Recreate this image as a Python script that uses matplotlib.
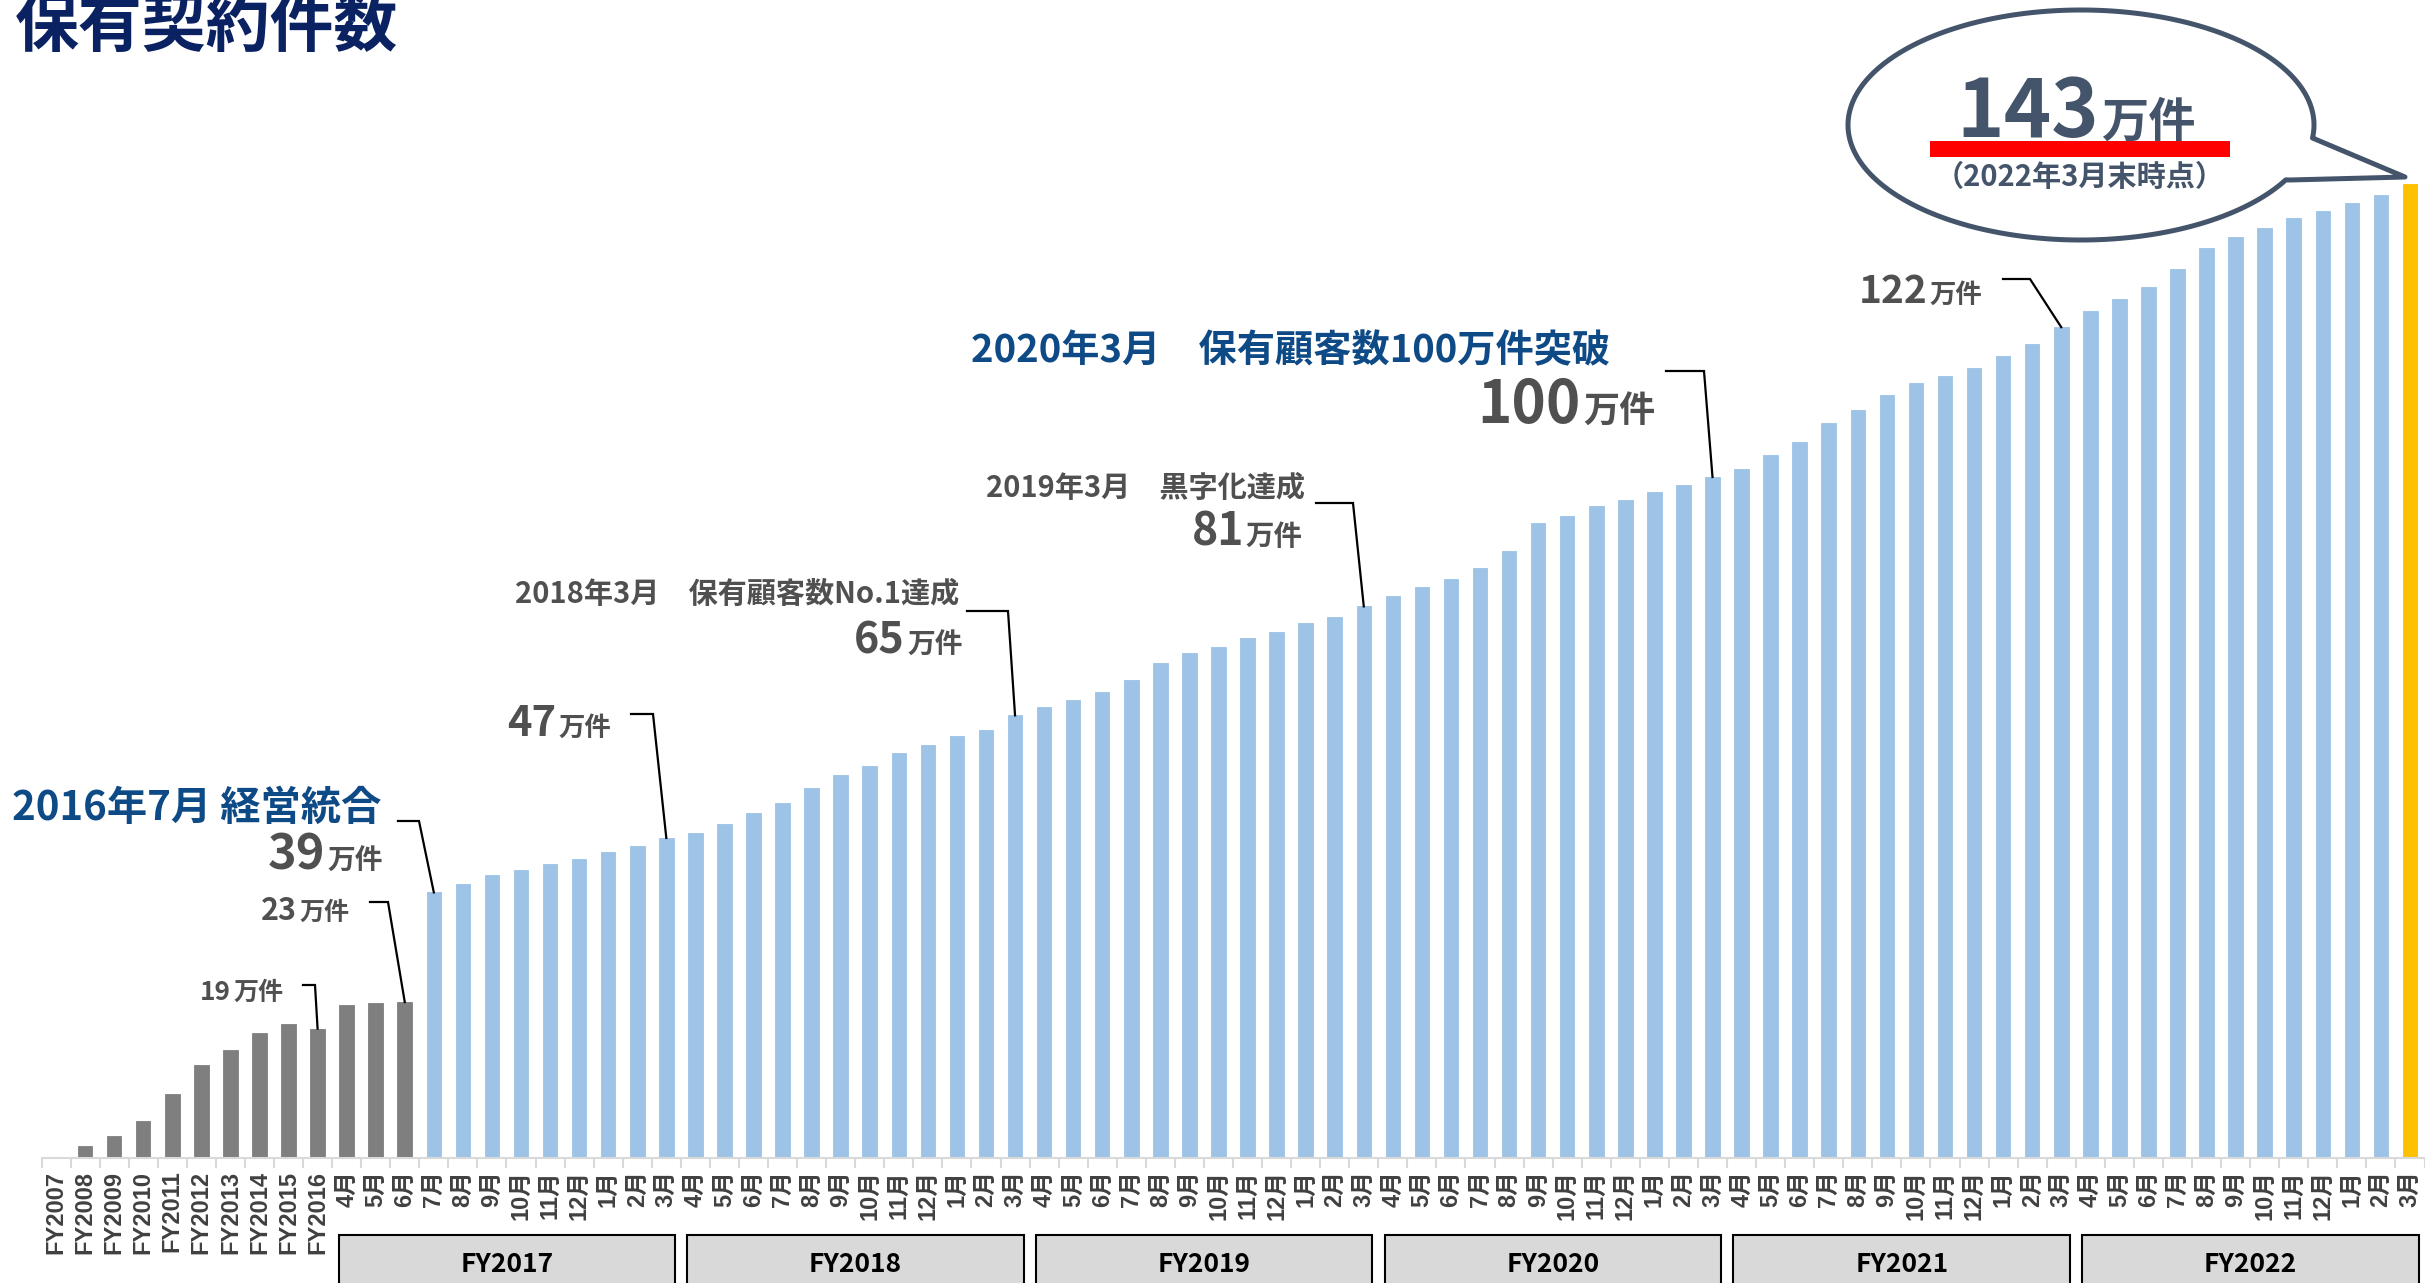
import matplotlib.pyplot as plt
import numpy as np
from matplotlib.patches import Rectangle, Polygon
from matplotlib.transforms import blended_transform_factory

plt.rcParams['font.family'] = ['Noto Sans CJK JP', 'DejaVu Sans']

W, H = 2425, 1283

# ---- data (万件) ----
fy_labels = ['FY2007', 'FY2008', 'FY2009', 'FY2010', 'FY2011',
             'FY2012', 'FY2013', 'FY2014', 'FY2015', 'FY2016']
fy_values = [0.0, 1.7, 3.3, 5.4, 9.4, 13.6, 15.8, 18.3, 19.7, 19.0]

pre_labels = ['4月', '5月', '6月']
pre_values = [22.5, 22.7, 22.9]

months = ['4月', '5月', '6月', '7月', '8月', '9月', '10月', '11月', '12月', '1月', '2月', '3月']
fy2017_values = [39.0, 40.3, 41.5, 42.3, 43.2, 43.9, 45.0, 45.8, 47.0]
fy2018_values = [47.7, 49.0, 50.6, 52.2, 54.4, 56.2, 57.6, 59.4, 60.6, 62.0, 62.8, 65.0]
fy2019_values = [66.2, 67.3, 68.4, 70.2, 72.7, 74.1, 75.0, 76.3, 77.3, 78.6, 79.5, 81.0]
fy2020_values = [82.5, 83.9, 85.0, 86.6, 89.1, 93.2, 94.2, 95.7, 96.6, 97.8, 98.8, 100.0]
fy2021_values = [101.2, 103.3, 105.1, 108.0, 109.9, 112.0, 113.8, 114.9, 116.0, 117.8, 119.5, 122.0]
fy2022_values = [124.4, 126.2, 127.9, 130.5, 133.6, 135.3, 136.6, 138.0, 139.1, 140.3, 141.4, 143.0]

groups = ['FY2017', 'FY2018', 'FY2019', 'FY2020', 'FY2021', 'FY2022']

labels = fy_labels + pre_labels + months[3:] + months * 5
values = (fy_values + pre_values + fy2017_values + fy2018_values + fy2019_values
          + fy2020_values + fy2021_values + fy2022_values)
n = len(values)
n_gray = len(fy_labels) + len(pre_labels)

GRAY = '#7f7f7f'
BLUE = '#9dc3e6'
GOLD = '#ffc000'
NAVY = '#0b2262'
DBLUE = '#0e4a86'
DGRAY = '#505050'
SLATE = '#44546a'

colors = [GRAY] * n_gray + [BLUE] * (n - n_gray - 1) + [GOLD]

fig = plt.figure(figsize=(W / 100, H / 100), dpi=100)
base = 1158
ax = fig.add_axes([41.5 / W, (H - base) / H, (2424.5 - 41.5) / W, base / H])
ax.bar(range(n), values, width=0.5, color=colors, edgecolor=colors, linewidth=0.6)
ax.set_xlim(-0.5, n - 0.5)
ax.set_ylim(0, base / 6.81)

for s in ['top', 'right', 'left']:
    ax.spines[s].set_visible(False)
ax.spines['bottom'].set_color('#d9d9d9')
ax.spines['bottom'].set_linewidth(1.5)
ax.set_yticks([])
ax.set_xticks(range(n))
ax.set_xticklabels(labels, rotation=90, fontsize=17, fontweight='bold', color='#404040',
                   family=['Liberation Sans', 'Noto Sans CJK JP'])
ax.set_xticks(np.arange(-0.5, n, 1), minor=True)
ax.tick_params(axis='x', which='major', length=0, pad=9)
ax.tick_params(axis='x', which='minor', length=7, width=1.5, color='#d9d9d9')

# FY group boxes
bt = blended_transform_factory(ax.transData, fig.transFigure)
for k, g in enumerate(groups):
    x0 = 10 + 12 * k - 0.5 + 0.22
    x1 = 22 + 12 * k - 0.5 - 0.2
    ax.add_patch(Rectangle((x0, -0.05), x1 - x0, 1 - 1235 / H + 0.05, transform=bt,
                           facecolor='#d9d9d9', edgecolor='black', linewidth=1.5, clip_on=False))
    ax.text((x0 + x1) / 2, 1 - 1264 / H, g, transform=bt, ha='center', va='center',
            fontsize=19, fontweight='bold', color='black')


def fx(x):
    return x / W


def fy(y):
    return 1 - y / H


def to_data(x, y):
    return ax.transData.inverted().transform((x, H - y))


def leader(p1, p2, idx):
    a = to_data(*p1)
    b = to_data(*p2)
    ax.plot([a[0], b[0], idx], [a[1], b[1], values[idx]], color='black', lw=1.6,
            clip_on=False, solid_joinstyle='miter')


def num_label(xr, yb, num, size_num, size_unit, color=DGRAY):
    fig.text(fx(xr), fy(yb), num, ha='right', va='baseline', fontsize=size_num,
             fontweight='bold', color=color)
    fig.text(fx(xr + 2), fy(yb), '万件', ha='left', va='baseline', fontsize=size_unit,
             fontweight='bold', color=color)


# title
fig.text(fx(15), fy(46), '保有契約件数', fontsize=46, fontweight='bold', color=NAVY, va='baseline')

# annotations
fig.text(fx(12), fy(820), '2016年7月 経営統合', fontsize=29, fontweight='bold', color=DBLUE,
         va='baseline')
num_label(325, 870, '39', 35, 20)
leader((398, 821), (419, 821), 13)

num_label(297, 920, '23', 22, 18)
leader((370, 902), (388, 902), 12)

num_label(231, 1000, '19', 19, 18)
leader((303, 985), (315, 985), 9)

num_label(556, 736, '47', 30, 19)
leader((631, 714), (653, 714), 21)

fig.text(fx(959), fy(603), '2018年3月　保有顧客数No.1達成', ha='right', va='baseline',
         fontsize=21, fontweight='bold', color=DGRAY)
num_label(905, 654, '65', 31, 20)
leader((967, 611), (1008, 611), 33)

fig.text(fx(1305), fy(497), '2019年3月　黒字化達成', ha='right', va='baseline',
         fontsize=21, fontweight='bold', color=DGRAY)
num_label(1244, 545, '81', 32, 20.5)
leader((1316, 503), (1353, 503), 45)

fig.text(fx(1610), fy(362), '2020年3月　保有顧客数100万件突破', ha='right', va='baseline',
         fontsize=27.5, fontweight='bold', color=DBLUE)
num_label(1581, 423, '100', 42, 26)
leader((1666, 371), (1704, 371), 57)

num_label(1927, 303, '122', 28, 19)
leader((2003, 279), (2030, 279), 69)

# speech bubble
cx, cy, a, b = 2081, 125, 233, 115
t = np.radians(np.linspace(-6.5, 331.5, 240))
pts = [(cx + a * np.cos(v), cy - b * np.sin(v)) for v in t]
pts += [(2290, 180), (2405, 177)]
fig.add_artist(Polygon([(fx(p[0]), fy(p[1])) for p in pts], closed=True, transform=fig.transFigure,
                       facecolor='white', edgecolor=SLATE, linewidth=3.6, joinstyle='round'))
num_label(2099, 137, '143', 58, 34, color=SLATE)
fig.add_artist(Rectangle((fx(1930), fy(157)), (2230 - 1930) / W, 16 / H, transform=fig.transFigure,
                         facecolor='#ff0000', edgecolor='none'))
fig.text(fx(2080), fy(186), '（2022年3月末時点）', ha='center', va='baseline', fontsize=21,
         fontweight='bold', color=SLATE)

fig.savefig('out.png', dpi=100)
